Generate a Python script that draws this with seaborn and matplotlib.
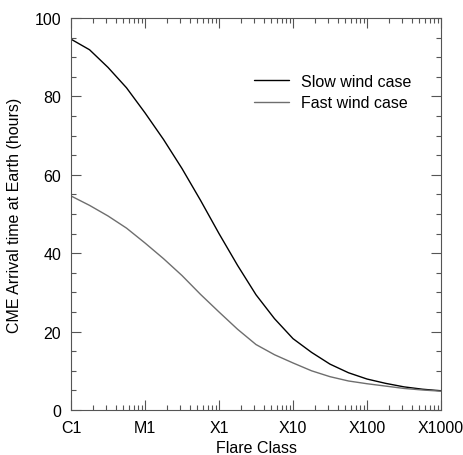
import numpy as np
import pandas as pd
import seaborn as sns
import matplotlib.pyplot as plt
from matplotlib.lines import Line2D
from matplotlib.ticker import LogLocator, MultipleLocator, FixedLocator, FixedFormatter, NullFormatter

# flare peak flux (W/m^2), C1 .. X1000, quarter-decade steps
flux = [1.0e-6, 1.78e-6, 3.16e-6, 5.62e-6, 1.0e-5, 1.78e-5, 3.16e-5, 5.62e-5,
        1.0e-4, 1.78e-4, 3.16e-4, 5.62e-4, 1.0e-3, 1.78e-3, 3.16e-3, 5.62e-3,
        1.0e-2, 1.78e-2, 3.16e-2, 5.62e-2, 1.0e-1]
slow_wind = [94.6, 91.9, 87.4, 82.2, 75.8, 69.0, 61.6, 53.5,
             45.0, 36.9, 29.4, 23.3, 18.2, 14.7, 11.7, 9.5,
             7.9, 6.8, 5.9, 5.3, 4.9]
fast_wind = [54.6, 52.2, 49.5, 46.4, 42.6, 38.6, 34.3, 29.5,
             25.0, 20.6, 16.7, 14.1, 12.0, 10.0, 8.5, 7.4,
             6.7, 6.1, 5.5, 5.1, 4.8]
class_ticks = [1e-6, 1e-5, 1e-4, 1e-3, 1e-2, 1e-1]
class_labels = ['C1', 'M1', 'X1', 'X10', 'X100', 'X1000']

df = pd.concat([
    pd.DataFrame({'flux': flux, 'time': slow_wind, 'case': 'Slow wind case'}),
    pd.DataFrame({'flux': flux, 'time': fast_wind, 'case': 'Fast wind case'}),
])

sns.set_style('ticks', {'text.color': 'black', 'xtick.color': 'black',
                        'ytick.color': 'black', 'axes.labelcolor': 'black'})
plt.rcParams['font.family'] = ['Liberation Sans', 'DejaVu Sans']
fs = 11.5

fig = plt.figure(figsize=(4.63, 4.56), dpi=100)
ax = fig.add_axes([0.1534, 0.0987, 0.7991, 0.8596])

sns.lineplot(data=df, x='flux', y='time', hue='case', ax=ax,
             palette={'Slow wind case': 'black', 'Fast wind case': '#6e6e6e'},
             linewidth=1.0, legend=False)

ax.set_xscale('log')
ax.set_xlim(1e-6, 1e-1)
ax.set_ylim(0, 100)
ax.xaxis.set_major_locator(FixedLocator(class_ticks))
ax.xaxis.set_major_formatter(FixedFormatter(class_labels))
ax.xaxis.set_minor_locator(LogLocator(base=10, subs=np.arange(2, 10)))
ax.xaxis.set_minor_formatter(NullFormatter())
ax.yaxis.set_major_locator(MultipleLocator(20))
ax.yaxis.set_minor_locator(MultipleLocator(5))

for s in ax.spines.values():
    s.set_color('#555555')
    s.set_linewidth(0.8)
ax.tick_params(which='both', direction='in', top=True, right=True,
               color='#555555', labelcolor='black', labelsize=fs, width=0.8)
ax.tick_params(which='major', length=7, pad=7)
ax.tick_params(which='minor', length=3.5)

ax.set_xlabel('Flare Class', fontsize=fs, labelpad=4)
ax.set_ylabel('CME Arrival time at Earth (hours)', fontsize=fs, labelpad=9)

# legend: short line + label, upper right, no frame
handles = [Line2D([], [], color='black', lw=1.0),
           Line2D([], [], color='#6e6e6e', lw=1.0)]
ax.legend(handles, ['Slow wind case', 'Fast wind case'], frameon=False,
          loc='upper right', bbox_to_anchor=(0.96, 0.895), fontsize=fs,
          handlelength=2.2, handletextpad=0.75, labelspacing=0.42)

fig.savefig('out.png', dpi=100)
